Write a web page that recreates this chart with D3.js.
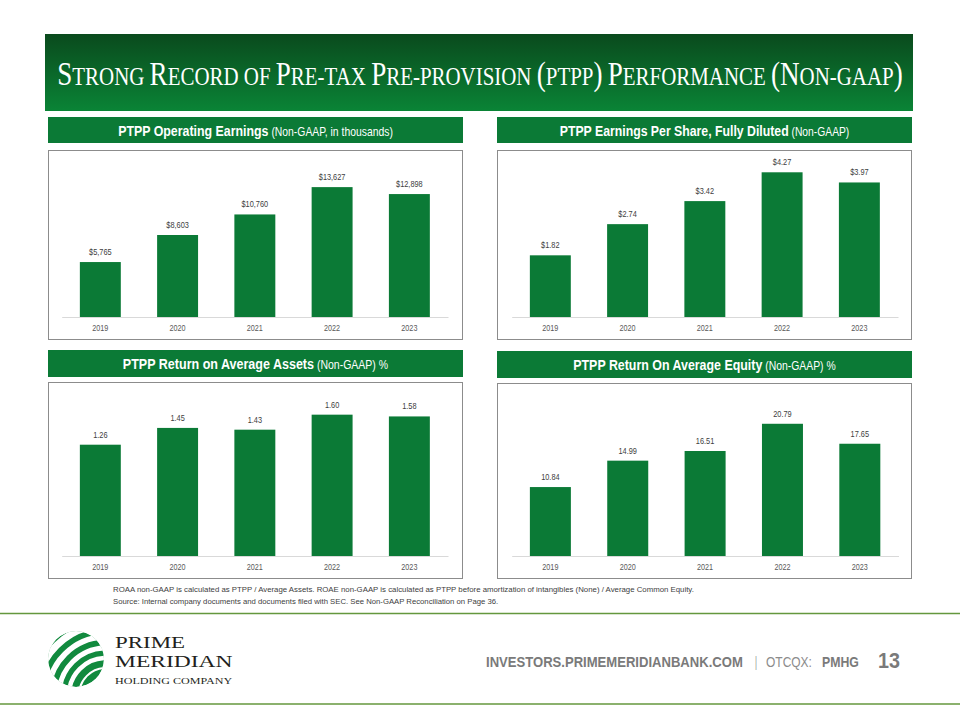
<!DOCTYPE html>
<html><head><meta charset="utf-8">
<script src="https://cdn.jsdelivr.net/npm/d3@7"></script>
<style>body{margin:0;background:#fff}svg{display:block}</style>
</head><body>
<svg id="c" width="960" height="720"></svg>
<script>
// ---------- DATA ----------
const years = ["2019", "2020", "2021", "2022", "2023"];
const ptppEarnings = [5765, 8603, 10760, 13627, 12898];
const ptppEPS = [1.82, 2.74, 3.42, 4.27, 3.97];
const ptppROAA = [1.26, 1.45, 1.43, 1.60, 1.58];
const ptppROAE = [10.84, 14.99, 16.51, 20.79, 17.65];
const axisMax = [16000, 4.5, 1.8, 25];
const labelFormats = ["$,.0f", "$.2f", ".2f", ".2f"];
const titlesBold = ["PTPP Operating Earnings", "PTPP Earnings Per Share, Fully Diluted", "PTPP Return on Average Assets", "PTPP Return On Average Equity"];
const titlesRegular = ["(Non-GAAP, in thousands)", "(Non-GAAP)", "(Non-GAAP) %", "(Non-GAAP) %"];
const mainTitle = "Strong Record of Pre-tax Pre-provision (ptpp) Performance (Non-gaap)";
const footnotes = [
  "ROAA non-GAAP is calculated as PTPP / Average Assets. ROAE non-GAAP is calculated as PTPP before amortization of intangibles (None) / Average Common Equity.",
  "Source: Internal company documents and documents filed with SEC. See Non-GAAP Reconciliation on Page 36."
];

// ---------- STYLE ----------
const GREEN = "#0b7a36";
const SANS = "'Liberation Sans', Arial, sans-serif";
const SERIF = "'Liberation Serif', 'Times New Roman', serif";
const svg = d3.select("#c");
const defs = svg.append("defs");

// Places a text inside a group and scales it horizontally to a target width.
function placeText(x, y, anchor, targetW, build) {
  const g = svg.append("g");
  const t = g.append("text").attr("x", 0).attr("y", 0).attr("text-anchor", anchor);
  build(t);
  const w = t.node().getBBox().width;
  const sx = targetW / w;
  g.attr("transform", `translate(${x},${y}) scale(${sx},1)`);
  return t;
}
function condense(sel, f) {
  sel.each(function () {
    const cx = +this.getAttribute("x") || 0;
    this.setAttribute("transform", `translate(${cx * (1 - f)},0) scale(${f},1)`);
  });
}

// ---------- TITLE BANNER ----------
const grad = defs.append("linearGradient").attr("id", "tg").attr("x1", 0).attr("y1", 0).attr("x2", 0).attr("y2", 1);
grad.append("stop").attr("offset", "0%").attr("stop-color", "#0a4a1d");
grad.append("stop").attr("offset", "100%").attr("stop-color", "#0a8436");
svg.append("rect").attr("x", 45).attr("y", 34).attr("width", 868).attr("height", 77).attr("fill", "url(#tg)");

placeText(480, 85, "middle", 846, t => {
  t.attr("font-family", SERIF).attr("fill", "#fff");
  // small caps: original capitals and parentheses large, other letters small
  const chunks = [];
  for (const ch of mainTitle) {
    const big = (ch >= "A" && ch <= "Z") || ch === "(" || ch === ")";
    const last = chunks[chunks.length - 1];
    if (last && last.big === big) last.s += ch; else chunks.push({ big, s: ch });
  }
  chunks.forEach(c => t.append("tspan").attr("font-size", c.big ? 33 : 25.5).text(c.s.toUpperCase()));
});

// ---------- PANELS ----------
const panels = [
  { data: ptppEarnings, x: 48, w: 415, hy: 117, hh: 26, by: 150, bh: 190, x0: 61.7, x1: 448, base: 317, top: 164.5, tw: 275 },
  { data: ptppEPS, x: 497, w: 415, hy: 117, hh: 26, by: 150, bh: 190, x0: 511.7, x1: 898, base: 317, top: 164.5, tw: 290 },
  { data: ptppROAA, x: 48, w: 415, hy: 350, hh: 27, by: 382, bh: 197, x0: 61.7, x1: 448, base: 556, top: 397, tw: 266 },
  { data: ptppROAE, x: 497, w: 415, hy: 351, hh: 27, by: 383, bh: 196, x0: 511.7, x1: 898.5, base: 556, top: 397, tw: 263 }
];

panels.forEach((p, i) => {
  const g = svg.append("g");
  g.append("rect").attr("x", p.x).attr("y", p.hy).attr("width", p.w).attr("height", p.hh).attr("fill", GREEN);
  placeText(p.x + p.w / 2, p.hy + p.hh / 2 + 5.5, "middle", p.tw, t => {
    t.attr("fill", "#fff").attr("font-family", SANS);
    t.append("tspan").attr("font-weight", "bold").attr("font-size", 15.5).text(titlesBold[i]);
    t.append("tspan").attr("font-size", 13).text(" " + titlesRegular[i]);
  });

  g.append("rect").attr("x", p.x + 0.5).attr("y", p.by + 0.5).attr("width", p.w - 1).attr("height", p.bh - 1)
    .attr("fill", "#fff").attr("stroke", "#8c8c8c").attr("stroke-width", 1);

  const x = d3.scaleBand().domain(years).range([p.x0, p.x1]).paddingInner(0.47).paddingOuter(0.235);
  const y = d3.scaleLinear().domain([0, axisMax[i]]).range([p.base, p.top]);
  const fmt = d3.format(labelFormats[i]);
  const rows = years.map((yr, k) => ({ yr, v: p.data[k] }));

  g.selectAll(".bar").data(rows).join("rect")
    .attr("x", d => x(d.yr)).attr("width", x.bandwidth())
    .attr("y", d => y(d.v)).attr("height", d => y(0) - y(d.v))
    .attr("fill", GREEN);

  g.selectAll(".lbl").data(rows).join("text")
    .attr("x", d => x(d.yr) + x.bandwidth() / 2).attr("y", d => y(d.v) - 7)
    .attr("text-anchor", "middle").attr("font-family", SANS).attr("font-size", 9)
    .attr("fill", "#404040").text(d => fmt(d.v))
    .call(condense, 0.82);

  const ax = g.append("g").attr("transform", `translate(0,${p.base})`)
    .call(d3.axisBottom(x).tickSize(0).tickPadding(7.5));
  ax.select(".domain").attr("stroke", "#d9d9d9");
  ax.selectAll("text").attr("font-family", SANS).attr("font-size", 8.5).attr("fill", "#595959")
    .call(condense, 0.85);
});

// ---------- FOOTNOTES ----------
[592, 604].forEach((yy, k) => {
  placeText(113, yy, "start", k === 0 ? 582 : 386, t =>
    t.attr("font-family", SANS).attr("font-size", 7.8).attr("fill", "#404040").text(footnotes[k]));
});

// ---------- FOOTER ----------
svg.append("line").attr("x1", 0).attr("x2", 960).attr("y1", 613.5).attr("y2", 613.5).attr("stroke", "#64973d").attr("stroke-width", 1.5);
svg.append("line").attr("x1", 0).attr("x2", 960).attr("y1", 704).attr("y2", 704).attr("stroke", "#64973d").attr("stroke-width", 1.5);

// logo globe
const cx = 76, cy = 659, r = 28;
defs.append("clipPath").attr("id", "gc").append("circle").attr("cx", cx).attr("cy", cy).attr("r", r);
const logo = svg.append("g").attr("clip-path", "url(#gc)");
logo.append("circle").attr("cx", cx).attr("cy", cy).attr("r", r).attr("fill", "#118a3e");
[27, 37, 47, 58, 70].forEach((rr, k) => {
  logo.append("circle").attr("cx", cx + 30).attr("cy", cy + 36).attr("r", rr)
    .attr("fill", "none").attr("stroke", "#fff").attr("stroke-width", [2, 4.5, 5, 5.5, 7][k]);
});

placeText(115, 647.5, "start", 70, t => t.attr("font-family", SERIF).attr("font-size", 17.5).attr("fill", "#231f20").text("PRIME"));
placeText(115, 667, "start", 118, t => t.attr("font-family", SERIF).attr("font-size", 17.5).attr("fill", "#231f20").text("MERIDIAN"));
placeText(115, 683.5, "start", 118, t => t.attr("font-family", SERIF).attr("font-size", 9).attr("fill", "#231f20").text("HOLDING COMPANY"));

const ft = (x, txt, w, bold, size, col) => placeText(x, 666.5, "start", w, t =>
  t.attr("font-family", SANS).attr("font-size", size).attr("font-weight", bold ? "bold" : "normal")
   .attr("fill", col).text(txt));
ft(486, "INVESTORS.PRIMEMERIDIANBANK.COM", 257, true, 15, "#7a7a7a");
ft(755, "|", 2, false, 14, "#8c8c8c");
ft(766, "OTCQX:", 46, false, 14, "#8c8c8c");
ft(822, "PMHG", 37, true, 14, "#7a7a7a");
placeText(878, 667.5, "start", 22, t => t.attr("font-family", SANS).attr("font-size", 22)
  .attr("font-weight", "bold").attr("fill", "#7a7a7a").text("13"));
</script>
</body></html>
